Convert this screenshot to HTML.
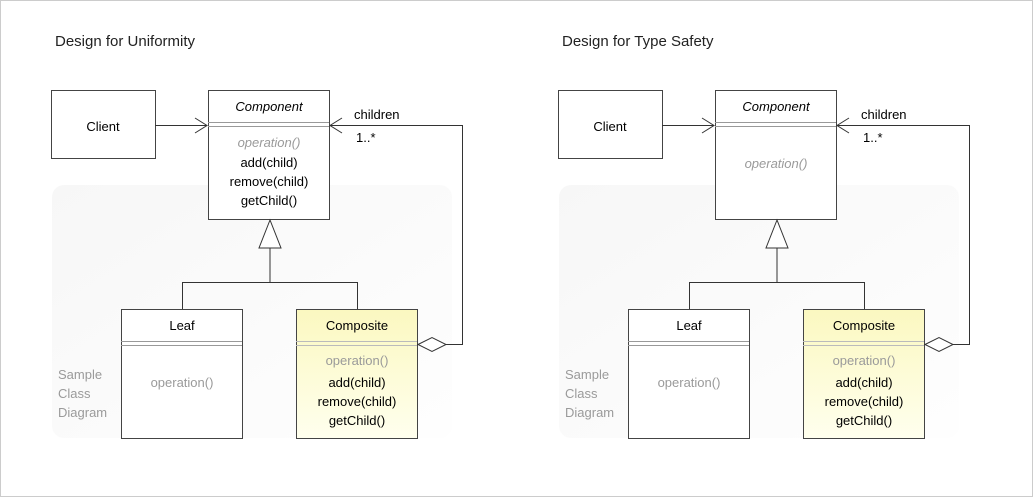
<!DOCTYPE html>
<html><head><style>
html,body{margin:0;padding:0;background:#fff}
svg{display:block}
text{font-family:"Liberation Sans",sans-serif;font-size:13px;fill:#000}
.g{fill:#9a9a9a}
.t{font-size:15px;fill:#222}
</style></head><body>
<svg width="1033" height="497" viewBox="0 0 1033 497">
<defs>
<linearGradient id="y" x1="0" y1="0" x2="0" y2="1"><stop offset="0" stop-color="#fbf8c0"/><stop offset="1" stop-color="#ffffee"/></linearGradient>
<linearGradient id="bg" x1="0" y1="0" x2="1" y2="1"><stop offset="0" stop-color="#f7f7f7"/><stop offset="1" stop-color="#fefefe"/></linearGradient>
<g id="d">
<rect x="52" y="185" width="400" height="253" rx="12" fill="url(#bg)"/>
<text x="58" y="379" class="g">Sample</text><text x="58" y="398" class="g">Class</text><text x="58" y="417" class="g">Diagram</text>
<rect x="51.5" y="90.5" width="104" height="68" fill="#fff" stroke="#444"/>
<text x="103" y="131" text-anchor="middle" font-size="15">Client</text>
<line x1="155" y1="125.5" x2="207" y2="125.5" stroke="#333"/>
<polyline points="195,118 207,125.5 195,133" fill="none" stroke="#333"/>
<rect x="208.5" y="90.5" width="121" height="129" fill="#fff" stroke="#444"/>
<text x="269" y="111" text-anchor="middle" font-style="italic" font-size="14">Component</text>
<line x1="208" y1="122.5" x2="329" y2="122.5" stroke="#999"/><line x1="208" y1="126.5" x2="329" y2="126.5" stroke="#999"/>
<polygon points="270,220 259,248 281,248" fill="#fff" stroke="#333"/>
<polyline points="270,248 270,282.5 182.5,282.5 182.5,309" fill="none" stroke="#333"/>
<polyline points="270,282.5 357.5,282.5 357.5,309" fill="none" stroke="#333"/>
<rect x="121.5" y="309.5" width="121" height="129" fill="#fff" stroke="#444"/>
<text x="182" y="330" text-anchor="middle" font-size="15">Leaf</text>
<line x1="121" y1="341.5" x2="242" y2="341.5" stroke="#999"/><line x1="121" y1="345.5" x2="242" y2="345.5" stroke="#999"/>
<text x="182" y="387" text-anchor="middle" class="g">operation()</text>
<rect x="296.5" y="309.5" width="121" height="129" fill="url(#y)" stroke="#444"/>
<text x="357" y="330" text-anchor="middle" font-size="15">Composite</text>
<line x1="296" y1="341.5" x2="417" y2="341.5" stroke="#bbb"/><line x1="296" y1="345.5" x2="417" y2="345.5" stroke="#bbb"/>
<text x="357" y="365" text-anchor="middle" class="g">operation()</text>
<text x="357" y="387" text-anchor="middle">add(child)</text>
<text x="357" y="406" text-anchor="middle">remove(child)</text>
<text x="357" y="425" text-anchor="middle">getChild()</text>
<polygon points="418,344.5 432,337.5 446,344.5 432,351.5" fill="#fff" stroke="#333"/>
<polyline points="446,344.5 462.5,344.5 462.5,125.5 330,125.5" fill="none" stroke="#333"/>
<polyline points="342,118 330,125.5 342,133" fill="none" stroke="#333"/>
<text x="354" y="119" font-size="14">children</text>
<text x="356" y="142" font-size="12">1..*</text>
</g>
</defs>
<rect x="0.5" y="0.5" width="1032" height="496" fill="#fff" stroke="#ccc"/>
<text x="55" y="46" class="t">Design for Uniformity</text>
<text x="562" y="46" class="t">Design for Type Safety</text>
<use href="#d"/>
<text x="269" y="147" text-anchor="middle" class="g" font-style="italic">operation()</text>
<text x="269" y="167" text-anchor="middle">add(child)</text>
<text x="269" y="186" text-anchor="middle">remove(child)</text>
<text x="269" y="205" text-anchor="middle">getChild()</text>
<use href="#d" x="507"/>
<text x="776" y="168" text-anchor="middle" class="g" font-style="italic">operation()</text>
</svg>
</body></html>
